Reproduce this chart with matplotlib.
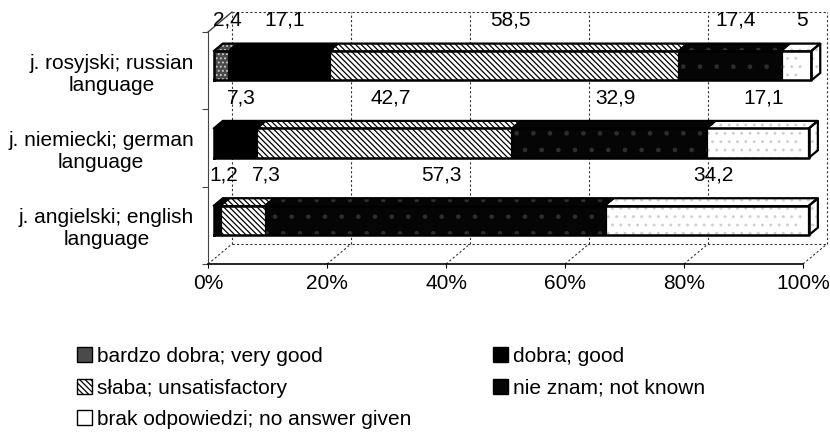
import matplotlib.pyplot as plt
import matplotlib.patches as patches

plt.rcParams['font.family'] = ['Liberation Sans', 'DejaVu Sans']
plt.rcParams['hatch.linewidth'] = 0.9

# dane (%), od dołu: angielski, niemiecki, rosyjski
categories = ['j. angielski; english\nlanguage', 'j. niemiecki; german\nlanguage',
              'j. rosyjski; russian\nlanguage']
series = ['bardzo dobra; very good', 'dobra; good', 'słaba; unsatisfactory',
          'nie znam; not known', 'brak odpowiedzi; no answer given']
very_good = [0, 0, 2.4]
good = [1.2, 7.3, 17.1]
unsatisfactory = [7.3, 42.7, 58.5]
not_known = [57.3, 32.9, 17.4]
no_answer = [34.2, 17.1, 5]
xticks = [0, 20, 40, 60, 80, 100]

# wygląd serii
faces = ['#4a4a4a', 'black', 'white', '#050505', 'white']
hatches = ['....', None, '\\\\\\\\\\\\', '.', '..']
hatch_cols = ['#c8c8c8', 'black', 'black', '#2e2e2e', '#cfcfcf']

# "3D" jak w Excelu: przesunięcie głębi w jednostkach danych
DX, DY = 4.03, 0.2586
ZF, ZB = 0.25, 0.62   # przód / tył słupka
H = 0.38
Y0, Y1 = -0.5, 2.5
PX = 595 / 100        # pikseli na 1%


def proj(x, y, z):
    return (x + z * DX, y + z * DY)


def fmt(v):
    return f"{v:g}".replace('.', ',')


fig = plt.figure(figsize=(8.3, 4.33), dpi=100)
ax = fig.add_axes([208 / 830, (433 - 264) / 433, 595 / 830, 232 / 433])
ax.set_xlim(0, 100)
ax.set_ylim(Y0, Y1)

# ściany i podłoga (linie przerywane)
wall = dict(color='#333333', lw=0.8, ls=(0, (2, 2)), zorder=1, clip_on=False)
for t in xticks:
    ax.plot(*zip(proj(t, Y0, 1), proj(t, Y1, 1)), **wall)
    ax.plot(*zip(proj(t, Y0, 0), proj(t, Y0, 1)), **wall)
ax.plot(*zip(proj(0, Y1, 1), proj(100, Y1, 1)), **wall)
ax.plot(*zip(proj(0, Y0, 1), proj(100, Y0, 1)), **wall)
ax.plot(*zip(proj(0, Y1, 0), proj(0, Y1, 1)), color='#333333', lw=0.9, zorder=1, clip_on=False)

values = [very_good, good, unsatisfactory, not_known, no_answer]
for i in range(len(categories)):
    y = i
    yc = y + ZF * DY
    top = y + H / 2
    segs = [(s, vals[i]) for s, vals in enumerate(values) if vals[i] > 0]
    last = segs[-1][0]
    left = 0
    prev_right = -100
    for s, v in segs:
        # przód
        ax.barh(yc, v, left=left + ZF * DX, height=H, color=faces[s], hatch=hatches[s],
                edgecolor=hatch_cols[s], linewidth=0, zorder=3)
        ax.barh(yc, v, left=left + ZF * DX, height=H, fill=False, edgecolor='black',
                linewidth=0.8, zorder=4)
        # góra
        pts = [proj(left, top, ZF), proj(left + v, top, ZF), proj(left + v, top, ZB), proj(left, top, ZB)]
        ax.add_patch(patches.Polygon(pts, facecolor=faces[s], hatch=hatches[s], edgecolor=hatch_cols[s],
                                     lw=0, zorder=3, clip_on=False))
        ax.add_patch(patches.Polygon(pts, fill=False, edgecolor='black', lw=0.8, zorder=4, clip_on=False))
        # bok ostatniego segmentu
        if s == last:
            bot = y - H / 2
            side = [proj(left + v, bot, ZF), proj(left + v, top, ZF), proj(left + v, top, ZB), proj(left + v, bot, ZB)]
            ax.add_patch(patches.Polygon(side, facecolor=faces[s], hatch=hatches[s], edgecolor=hatch_cols[s],
                                         lw=0, zorder=3, clip_on=False))
            ax.add_patch(patches.Polygon(side, fill=False, edgecolor='black', lw=1.6, zorder=5, clip_on=False))
        # etykieta, przesunięta w prawo gdy nachodzi na poprzednią
        txt = fmt(v)
        half = len(txt) * 0.5 * 0.52 * 20.8 / PX
        lx = max(left + v / 2 + 2, prev_right + 1.8 + half)
        ax.text(lx, y + 0.65, txt, ha='center', va='center', fontsize=15, zorder=6)
        prev_right = lx + half
        left += v
    # gruby obrys całego słupka
    total = left
    outline = [proj(0, y - H / 2, ZF), proj(total, y - H / 2, ZF), proj(total, top, ZF),
               proj(0, top, ZF), proj(0, y - H / 2, ZF)]
    ax.plot(*zip(*outline), color='black', lw=1.8, zorder=5, clip_on=False)
    topline = [proj(0, top, ZF), proj(0, top, ZB), proj(total, top, ZB), proj(total, top, ZF)]
    ax.plot(*zip(*topline), color='black', lw=1.6, zorder=5, clip_on=False)

# osie
for sp in ['top', 'right']:
    ax.spines[sp].set_visible(False)
ax.spines['left'].set_color('#444444')
ax.spines['bottom'].set_linewidth(1.2)
ax.set_xticks(xticks, [f'{t}%' for t in xticks])
ax.tick_params(axis='x', length=3, pad=4, labelsize=15)
ax.set_yticks([-0.5, 0.5, 1.5, 2.5], ['', '', '', ''])
ax.tick_params(axis='y', which='major', length=4, color='#444444')
ax.set_yticks(range(len(categories)), categories, minor=True)
ax.tick_params(axis='y', which='minor', length=0, pad=10, labelsize=15)
for lab in ax.get_yticklabels(minor=True):
    lab.set_multialignment('center')
ax.set_facecolor('none')

# legenda (wierszami, jak w oryginale)
handles = [patches.Patch(facecolor=faces[s], edgecolor='black', hatch=hatches[s] if s == 2 else None,
                         label=series[s])
           for s in [0, 2, 4, 1, 3]]
fig.legend(handles=handles, loc='upper left', bbox_to_anchor=(77 / 830, 1 - 347 / 433), ncol=2,
           frameon=False, fontsize=15, handlelength=0.72, handleheight=0.72, handletextpad=0.25,
           labelspacing=0.6, columnspacing=3.9, borderpad=0, borderaxespad=0)

fig.savefig('out.png', dpi=100)
